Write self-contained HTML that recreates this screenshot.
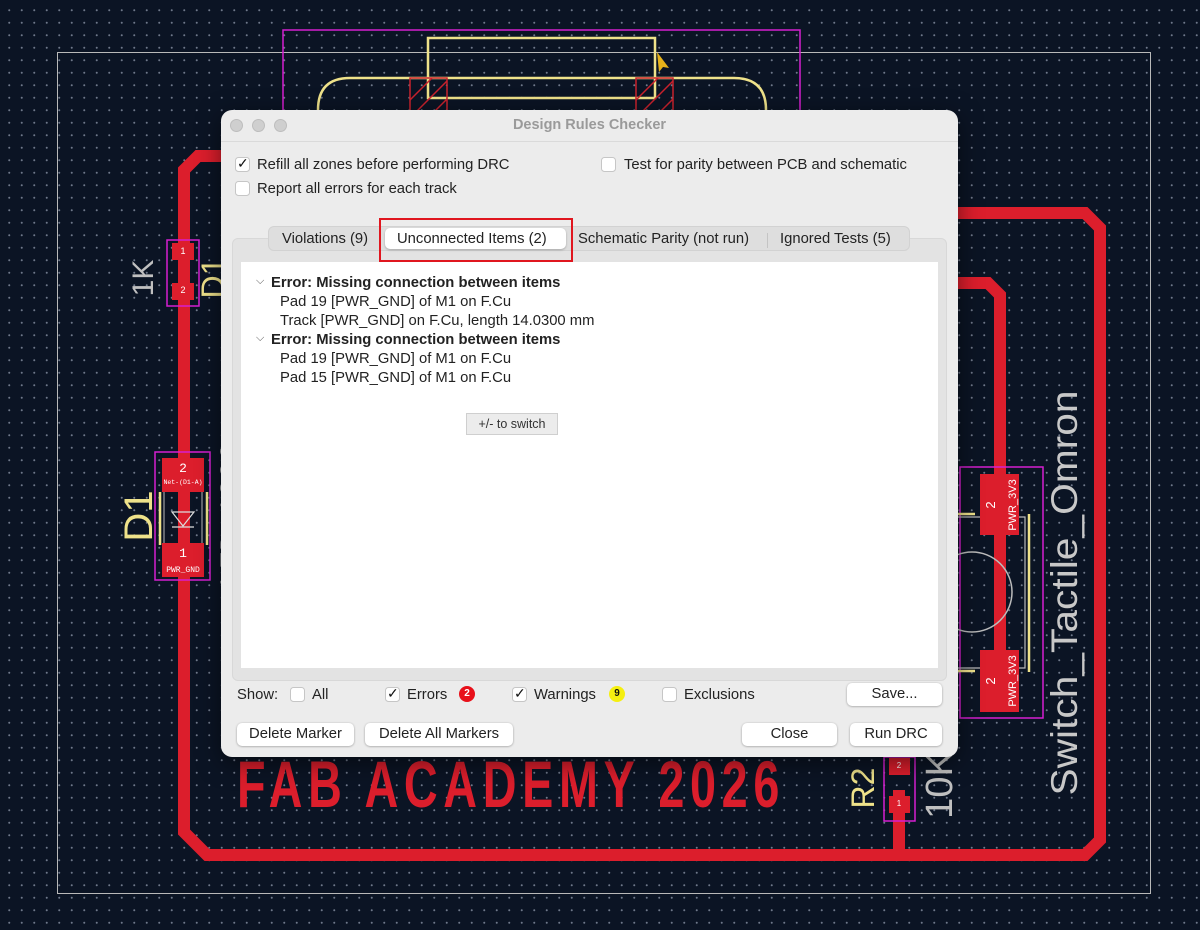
<!DOCTYPE html>
<html><head><meta charset="utf-8"><style>
*{box-sizing:border-box;margin:0;padding:0}
body{width:1200px;height:930px;overflow:hidden;position:relative;background:#0b1424;
background-image:radial-gradient(circle,#6f788a 0.8px,transparent 1.2px);background-size:12.5px 12.5px;background-position:3px 4px;
font-family:"Liberation Sans",sans-serif}
svg.b{position:absolute;left:0;top:0}
.dlg{position:absolute;left:221px;top:110px;width:737px;height:647px;background:#ececec;border-radius:11px;box-shadow:0 6px 24px rgba(0,0,0,.5);font-size:14.8px;color:#222;letter-spacing:0}
.tl{position:absolute;top:9px;width:13px;height:13px;border-radius:50%;background:#cfcfcf;border:1px solid #bdbdbd}
.title{position:absolute;top:7px;left:0;width:100%;text-align:center;color:#9a9a9a;font-weight:bold;font-size:14.5px}
.tb{position:absolute;left:0;top:31px;width:100%;height:1px;background:#dadada}
.cb{position:absolute;width:15px;height:15px;background:#fff;border:1px solid #c6c6c6;border-radius:3.5px}
.lbl{position:absolute;white-space:nowrap}
.ck{position:absolute;left:1px;top:-3px;font-size:14px;color:#111}
.panel{position:absolute;left:11px;top:128px;width:715px;height:443px;background:#e3e3e3;border-radius:6px;border:1px solid #d8d8d8}
.white{position:absolute;left:20px;top:152px;width:697px;height:406px;background:#fff}
.seg{position:absolute;left:47px;top:116px;width:642px;height:25px;background:#dedede;border-radius:6px;border:1px solid #d2d2d2}
.sel{position:absolute;left:164px;top:118px;width:181px;height:21px;background:#fff;border-radius:5px;box-shadow:0 1px 2px rgba(0,0,0,.25)}
.btn{position:absolute;height:23px;background:#fff;border-radius:5px;box-shadow:0 0.5px 2px rgba(0,0,0,.35);text-align:center;line-height:23px}
.row{position:absolute;left:59px;white-space:nowrap}
</style></head><body>
<svg class="b" width="1200" height="930" viewBox="0 0 1200 930">
<rect x="57.5" y="52.5" width="1093" height="841" fill="none" stroke="#b9b9b9" stroke-width="1"/>
<rect x="283" y="30" width="517" height="100" fill="none" stroke="#d61fd0" stroke-width="1.5"/>
<rect x="428" y="38" width="227" height="60" fill="none" stroke="#efe28a" stroke-width="2.5"/>
<path d="M318 120 V110 Q318 78 350 78 H734 Q766 78 766 110 V120" fill="none" stroke="#efe28a" stroke-width="2.5"/>
<g stroke="#c9222d" stroke-width="1.5" fill="none">
<rect x="410" y="78" width="37" height="40"/><rect x="636" y="78" width="37" height="40"/>
<path d="M410 100 L432 78 M410 118 L447 81 M428 118 L447 99 M636 100 L658 78 M636 118 L673 81 M654 118 L673 99"/>
</g>
<path d="M657 52 l12 16 l-6 -1 l-4 5 z" fill="#e6b21a"/>
<g stroke="#dc1e2c" stroke-width="12" fill="none" stroke-linejoin="miter">
<path d="M230 156 H198 L184 170 V832 L207 855 H1085 L1100 840 V228 L1085 213 H950"/>
<path d="M950 283 H988 L1000 295 V712"/>
<path d="M899 790 V855"/>
</g>
<rect x="167" y="240" width="32" height="66" fill="none" stroke="#d61fd0" stroke-width="1.5"/>
<rect x="172" y="243" width="22" height="17" fill="#dc1e2c"/><rect x="172" y="283" width="22" height="17" fill="#dc1e2c"/>
<text x="183" y="254" fill="#fff" font-size="9" text-anchor="middle">1</text>
<text x="183" y="293" fill="#fff" font-size="9" text-anchor="middle">2</text>
<text transform="translate(153,278) rotate(-90)" fill="#c0c0c0" font-size="30" text-anchor="middle">1K</text>
<text transform="translate(224,278) rotate(-90)" fill="#efe28a" font-size="32" text-anchor="middle">D1</text>
<rect x="155" y="452" width="55" height="128" fill="none" stroke="#d61fd0" stroke-width="1.5"/>
<rect x="162" y="458" width="42" height="34" fill="#dc1e2c"/><rect x="162" y="543" width="42" height="34" fill="#dc1e2c"/>
<text x="183" y="472" fill="#fff" font-size="13" text-anchor="middle" font-family="Liberation Mono">2</text>
<text x="183" y="484" fill="#fff" font-size="6.5" text-anchor="middle" font-family="Liberation Mono">Net-(D1-A)</text>
<text x="183" y="557" fill="#fff" font-size="13" text-anchor="middle" font-family="Liberation Mono">1</text>
<text x="183" y="572" fill="#fff" font-size="8" text-anchor="middle" font-family="Liberation Mono">PWR_GND</text>
<path d="M160 492 V545 M207 492 V545" stroke="#efe28a" stroke-width="2.5"/>
<path d="M164 492 V543 M202 492 V543" stroke="#bbb" stroke-width="1"/>
<path d="M172 512 H194 L183 526 Z M172 527 H194" stroke="#ddd" stroke-width="1.2" fill="none"/>
<text transform="translate(152,516) rotate(-90)" fill="#efe28a" font-size="40" text-anchor="middle">D1</text>
<text transform="translate(240,515) rotate(-90)" fill="#bfbfbf" font-size="30" text-anchor="middle" font-family="Liberation Mono">LED_1206</text>
<rect x="960" y="467" width="83" height="251" fill="none" stroke="#d61fd0" stroke-width="1.5"/>
<path d="M958 514 H975 M958 671 H975 M1029 514 V672" stroke="#efe28a" stroke-width="2.5" fill="none"/>
<path d="M958 517 H1025 V668 H958" stroke="#bbb" stroke-width="1.2" fill="none"/>
<circle cx="972" cy="592" r="40" fill="none" stroke="#bbb" stroke-width="1.5"/>
<rect x="980" y="474" width="39" height="61" fill="#dc1e2c"/><rect x="980" y="650" width="39" height="62" fill="#dc1e2c"/>
<text transform="translate(995,505) rotate(-90)" fill="#fff" font-size="13" text-anchor="middle">2</text>
<text transform="translate(1016,505) rotate(-90)" fill="#fff" font-size="11" text-anchor="middle">PWR_3V3</text>
<text transform="translate(995,681) rotate(-90)" fill="#fff" font-size="13" text-anchor="middle">2</text>
<text transform="translate(1016,681) rotate(-90)" fill="#fff" font-size="11" text-anchor="middle">PWR_3V3</text>
<text transform="translate(1077,593) rotate(-90)" fill="#c8c8c8" font-size="37" text-anchor="middle" textLength="405" lengthAdjust="spacingAndGlyphs">Switch_Tactile_Omron</text>
<rect x="884" y="757" width="31" height="64" fill="none" stroke="#d61fd0" stroke-width="1.5"/>
<rect x="889" y="758" width="21" height="17" fill="#dc1e2c"/><rect x="889" y="796" width="21" height="17" fill="#dc1e2c"/>
<text x="899" y="768" fill="#fff" font-size="8" text-anchor="middle">2</text>
<text x="899" y="806" fill="#fff" font-size="8" text-anchor="middle">1</text>
<text transform="translate(874,788) rotate(-90)" fill="#efe28a" font-size="32" text-anchor="middle">R2</text>
<text transform="translate(952,785) rotate(-90)" fill="#c0c0c0" font-size="38" text-anchor="middle">10K</text>
<text x="237" y="807" fill="#dc1e2c" font-size="66" font-weight="bold" font-family="Liberation Sans" textLength="548" lengthAdjust="spacingAndGlyphs" letter-spacing="8">FAB ACADEMY 2026</text>
</svg>

<div class="dlg">
<div class="tl" style="left:9px"></div><div class="tl" style="left:31px"></div><div class="tl" style="left:53px"></div>
<div class="title">Design Rules Checker</div>
<div class="tb"></div>
<div class="cb" style="left:14px;top:47px"><span class="ck">✓</span></div><div class="lbl" style="left:36px;top:47px">Refill all zones before performing DRC</div>
<div class="cb" style="left:14px;top:71px"></div><div class="lbl" style="left:36px;top:71px">Report all errors for each track</div>
<div class="cb" style="left:380px;top:47px"></div><div class="lbl" style="left:403px;top:47px">Test for parity between PCB and schematic</div>
<div class="panel"></div>
<div class="white"></div>
<div class="seg"></div>
<div class="sel"></div>
<div class="lbl" style="left:61px;top:121px">Violations (9)</div>
<div class="lbl" style="left:176px;top:121px">Unconnected Items (2)</div>
<div class="lbl" style="left:357px;top:121px">Schematic Parity (not run)</div>
<div style="position:absolute;left:546px;top:123px;width:1px;height:15px;background:#c4c4c4"></div>
<div class="lbl" style="left:559px;top:121px">Ignored Tests (5)</div>
<div style="position:absolute;left:158px;top:108px;width:194px;height:44px;border:2.5px solid #e0161f"></div>
<div class="row" style="left:35px;top:165px;font-size:11px;color:#555">⌵</div>
<div class="row" style="left:50px;top:165px;font-weight:bold">Error: Missing connection between items</div>
<div class="row" style="top:184px">Pad 19 [PWR_GND] of M1 on F.Cu</div>
<div class="row" style="top:203px">Track [PWR_GND] on F.Cu, length 14.0300 mm</div>
<div class="row" style="left:35px;top:222px;font-size:11px;color:#555">⌵</div>
<div class="row" style="left:50px;top:222px;font-weight:bold">Error: Missing connection between items</div>
<div class="row" style="top:241px">Pad 19 [PWR_GND] of M1 on F.Cu</div>
<div class="row" style="top:260px">Pad 15 [PWR_GND] of M1 on F.Cu</div>
<div style="position:absolute;left:245px;top:303px;width:92px;height:22px;background:#ececec;border:1px solid #cfcfcf;font-size:12.5px;text-align:center;line-height:20px;color:#333">+/- to switch</div>
<div class="lbl" style="left:16px;top:577px">Show:</div>
<div class="cb" style="left:69px;top:577px"></div><div class="lbl" style="left:91px;top:577px">All</div>
<div class="cb" style="left:164px;top:577px"><span class="ck">✓</span></div><div class="lbl" style="left:186px;top:577px">Errors</div>
<div style="position:absolute;left:238px;top:576px;width:16px;height:16px;border-radius:50%;background:#e8101a;color:#fff;font-size:10px;font-weight:bold;text-align:center;line-height:16px">2</div>
<div class="cb" style="left:291px;top:577px"><span class="ck">✓</span></div><div class="lbl" style="left:313px;top:577px">Warnings</div>
<div style="position:absolute;left:388px;top:576px;width:16px;height:16px;border-radius:50%;background:#f5ef10;color:#111;font-size:10px;font-weight:bold;text-align:center;line-height:16px">9</div>
<div class="cb" style="left:441px;top:577px"></div><div class="lbl" style="left:463px;top:577px">Exclusions</div>
<div class="btn" style="left:626px;top:573px;width:95px">Save...</div>
<div class="btn" style="left:16px;top:613px;width:117px">Delete Marker</div>
<div class="btn" style="left:144px;top:613px;width:148px">Delete All Markers</div>
<div class="btn" style="left:521px;top:613px;width:95px">Close</div>
<div class="btn" style="left:629px;top:613px;width:92px">Run DRC</div>
</div>
</body></html>
